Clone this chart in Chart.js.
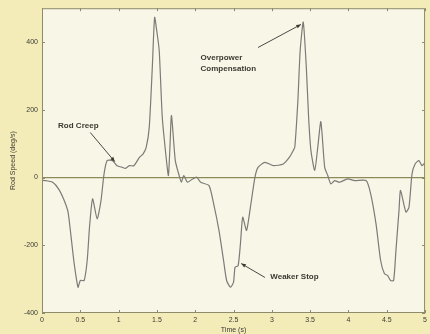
<!DOCTYPE html>
<html>
<head>
<meta charset="utf-8">
<script src="https://cdn.jsdelivr.net/npm/chart.js@4.4.1/dist/chart.umd.min.js"></script>
<style>
  html, body { margin: 0; padding: 0; background: #f3ecb9; }
  #wrap { width: 430px; height: 334px; }
</style>
</head>
<body>
<div id="wrap"><canvas id="rod-chart" width="430" height="334"></canvas></div>
<script>
const times = [
  0.00, 0.05, 0.14, 0.22, 0.29, 0.34, 0.38, 0.42, 0.47, 0.50, 0.55, 0.59, 0.62, 0.66, 0.72, 0.77,
  0.81, 0.85, 0.92, 0.98, 1.05, 1.09, 1.14, 1.20, 1.27, 1.32, 1.36, 1.40, 1.44, 1.47, 1.50, 1.53,
  1.57, 1.62, 1.65, 1.67, 1.69, 1.74, 1.79, 1.82, 1.85, 1.90, 1.96, 2.02, 2.07, 2.18, 2.24, 2.31,
  2.37, 2.41, 2.46, 2.50, 2.52, 2.56, 2.59, 2.62, 2.67, 2.72, 2.78, 2.82, 2.91, 3.02, 3.15, 3.23,
  3.28, 3.30, 3.34, 3.37, 3.41, 3.45, 3.48, 3.51, 3.56, 3.60, 3.64, 3.69, 3.73, 3.77, 3.82, 3.88,
  3.99, 4.08, 4.23, 4.29, 4.36, 4.42, 4.47, 4.51, 4.55, 4.59, 4.62, 4.66, 4.68, 4.75, 4.79, 4.83,
  4.87, 4.92, 4.96, 5.00
];
const speeds = [
  -8, -9, -14, -35, -68, -102, -176, -254, -324, -304, -304, -245, -147, -63, -122, -68,
  11, 50, 50, 35, 30, 27, 35, 35, 59, 70, 89, 148, 326, 473, 430, 375,
  178, 60, 6, 90, 183, 50, 6, -14, 6, -14, -5, 1, -14, -24, -77, -156,
  -245, -304, -324, -309, -265, -260, -196, -117, -156, -88, 1, 30, 45, 35, 40, 60,
  80, 90, 227, 375, 459, 326, 178, 80, 21, 90, 165, 30, 6, -19, -9, -14,
  -4, -9, -9, -48, -137, -245, -284, -289, -304, -304, -215, -97, -38, -102, -88, 11,
  40, 50, 35, 45
];

const xTicks = [0, 0.5, 1, 1.5, 2, 2.5, 3, 3.5, 4, 4.5, 5];
const yTicks = [-400, -200, 0, 200, 400];

// annotation text + arrow, in data units
const notes = [
  { lines: ['Rod Creep'], t: 0.21, v: 153, from: [0.63, 133], to: [0.95, 47] },
  { lines: ['Overpower', 'Compensation'], t: 2.07, v: 354, from: [2.82, 384], to: [3.38, 452] },
  { lines: ['Weaker Stop'], t: 2.98, v: -292, from: [2.91, -295], to: [2.60, -254] }
];

const points = times.map((t, i) => ({ x: t, y: speeds[i] }));

const frame = {
  id: 'frame',
  beforeDraw(chart) {
    const { ctx, chartArea: a } = chart;
    ctx.save();
    ctx.fillStyle = '#f8f6e6';
    ctx.fillRect(a.left, a.top, a.right - a.left, a.bottom - a.top);
    ctx.restore();
  },
  afterDatasetsDraw(chart) {
    const { ctx, chartArea: a, scales: { x, y } } = chart;
    ctx.save();
    ctx.strokeStyle = '#8d8b6c';
    ctx.lineWidth = 1;
    ctx.strokeRect(a.left + 0.5, a.top + 0.5, a.right - a.left - 1, a.bottom - a.top - 1);
    ctx.beginPath();
    xTicks.forEach(t => {
      const px = Math.round(x.getPixelForValue(t)) + 0.5;
      ctx.moveTo(px, a.bottom); ctx.lineTo(px, a.bottom - 3);
      ctx.moveTo(px, a.top);    ctx.lineTo(px, a.top + 3);
    });
    yTicks.forEach(v => {
      const py = Math.round(y.getPixelForValue(v)) + 0.5;
      ctx.moveTo(a.left, py);  ctx.lineTo(a.left + 3, py);
      ctx.moveTo(a.right, py); ctx.lineTo(a.right - 3, py);
    });
    ctx.stroke();

    // annotations
    ctx.fillStyle = '#3a3a32';
    ctx.strokeStyle = '#4a4a44';
    ctx.font = 'bold 8px "Liberation Sans", Arial, sans-serif';
    ctx.textBaseline = 'middle';
    notes.forEach(n => {
      const tx = x.getPixelForValue(n.t), ty = y.getPixelForValue(n.v);
      n.lines.forEach((s, i) => ctx.fillText(s, tx, ty + i * 11));
      const x0 = x.getPixelForValue(n.from[0]), y0 = y.getPixelForValue(n.from[1]);
      const x1 = x.getPixelForValue(n.to[0]),   y1 = y.getPixelForValue(n.to[1]);
      ctx.beginPath(); ctx.moveTo(x0, y0); ctx.lineTo(x1, y1); ctx.stroke();
      const ang = Math.atan2(y1 - y0, x1 - x0);
      ctx.beginPath();
      ctx.moveTo(x1, y1);
      ctx.lineTo(x1 - 5 * Math.cos(ang - 0.4), y1 - 5 * Math.sin(ang - 0.4));
      ctx.lineTo(x1 - 5 * Math.cos(ang + 0.4), y1 - 5 * Math.sin(ang + 0.4));
      ctx.closePath(); ctx.fill();
    });
    ctx.restore();
  }
};

const tickFont = { family: '"Liberation Sans", Arial, sans-serif', size: 7 };

new Chart(document.getElementById('rod-chart'), {
  type: 'line',
  data: {
    datasets: [{
      data: points,
      borderColor: '#7b7b78',
      borderWidth: 1.2,
      pointRadius: 0,
      tension: 0.2,
      fill: false
    }]
  },
  options: {
    responsive: false,
    animation: false,
    parsing: false,
    layout: { padding: { left: 0, right: 2, top: 8, bottom: 0 } },
    plugins: { legend: { display: false }, tooltip: { enabled: false } },
    scales: {
      x: {
        type: 'linear', min: 0, max: 5,
        afterBuildTicks: s => { s.ticks = xTicks.map(v => ({ value: v })); },
        afterFit: s => { s.height = 21; },
        ticks: { color: '#3a3a32', font: tickFont, padding: 3, maxRotation: 0,
                 callback: v => String(v) },
        grid: { display: false, drawTicks: false },
        border: { display: false },
        title: { display: true, text: 'Time (s)', color: '#3a3a32', font: tickFont,
                 padding: { top: 0, bottom: 0 } }
      },
      y: {
        type: 'linear', min: -400, max: 500,
        afterBuildTicks: s => { s.ticks = yTicks.map(v => ({ value: v })); },
        afterFit: s => { s.width = 42; },
        ticks: { color: '#3a3a32', font: tickFont, padding: 4 },
        grid: {
          drawTicks: false,
          color: c => (c.tick && c.tick.value === 0 ? '#8c8a5a' : 'rgba(0,0,0,0)'),
          lineWidth: 1.2
        },
        border: { display: false },
        title: { display: true, text: 'Rod Speed (deg/s)', color: '#3a3a32', font: tickFont,
                 padding: { top: 9, bottom: 0 } }
      }
    }
  },
  plugins: [frame]
});
</script>
</body>
</html>
